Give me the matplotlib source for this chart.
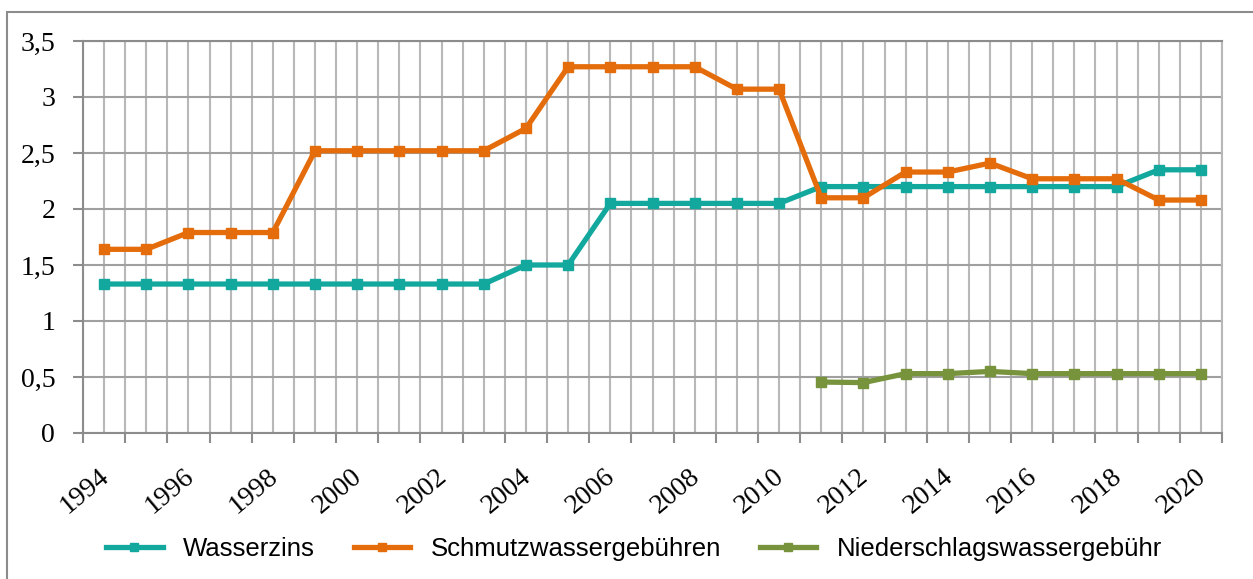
import numpy as np
import matplotlib
matplotlib.use("Agg")
import matplotlib.pyplot as plt
import matplotlib.transforms as mtransforms
from matplotlib.patches import Rectangle
from matplotlib.ticker import FixedLocator, FuncFormatter

# data
years = list(range(1994, 2021))
wasserzins = [1.33, 1.33, 1.33, 1.33, 1.33, 1.33, 1.33, 1.33, 1.33, 1.33,
              1.50, 1.50, 2.05, 2.05, 2.05, 2.05, 2.05, 2.20, 2.20, 2.20,
              2.20, 2.20, 2.20, 2.20, 2.20, 2.35, 2.35]
schmutzwasser = [1.64, 1.64, 1.79, 1.79, 1.79, 2.52, 2.52, 2.52, 2.52, 2.52,
                 2.72, 3.27, 3.27, 3.27, 3.27, 3.07, 3.07, 2.10, 2.10, 2.33,
                 2.33, 2.41, 2.27, 2.27, 2.27, 2.08, 2.08]
niederschlag_years = list(range(2011, 2021))
niederschlag = [0.455, 0.45, 0.53, 0.53, 0.55, 0.53, 0.53, 0.53, 0.53, 0.53]
labels = ["Wasserzins", "Schmutzwassergebühren", "Niederschlagswassergebühr"]
colors = ["#12A89E", "#E46C0A", "#77933C"]

fig = plt.figure(figsize=(12.53, 5.79), dpi=100)
ax = fig.add_axes([83/1253, 1-433/579, 1139/1253, 392/579])

x = np.arange(len(years))
xn = np.array([years.index(y) for y in niederschlag_years])
series = [(x, wasserzins), (x, schmutzwasser), (xn, niederschlag)]
for (xs, ys), lab, c in zip(series, labels, colors):
    ax.plot(xs, ys, color=c, lw=3.8, marker="s", ms=7.5, label=lab,
            solid_joinstyle="miter", zorder=3)

ax.set_xlim(-0.5, len(years) - 0.5)
ax.set_ylim(0, 3.5)
ax.set_yticks(np.arange(0, 3.51, 0.5))
ax.yaxis.set_major_formatter(FuncFormatter(lambda v, p: ("%g" % v).replace(".", ",")))

# category centres (labels) and boundaries (tick marks)
ax.xaxis.set_major_locator(FixedLocator(x))
ax.set_xticklabels([str(y) if i % 2 == 0 else "" for i, y in enumerate(years)])
ax.xaxis.set_minor_locator(FixedLocator(np.arange(-0.5, len(years), 1.0)))
ax.tick_params(axis="x", which="major", length=0, pad=22)
ax.tick_params(axis="x", which="minor", length=7, width=1.5, color="#8c8c8c")
ax.tick_params(axis="y", length=7, width=1.5, color="#8c8c8c", pad=13)
shift = mtransforms.ScaledTranslation(-6/100, 0, fig.dpi_scale_trans)
for lbl in ax.get_xticklabels():
    lbl.set_rotation(40)
    lbl.set_ha("right")
    lbl.set_rotation_mode("anchor")
    lbl.set_transform(lbl.get_transform() + shift)
for lbl in ax.get_xticklabels() + ax.get_yticklabels():
    lbl.set_fontfamily("Liberation Serif")
    lbl.set_fontsize(20)

ax.grid(axis="x", which="both", color="#b8b8b8", lw=1.5, zorder=0)
ax.grid(axis="y", which="major", color="#a0a0a0", lw=1.5, zorder=0)
ax.set_axisbelow(True)
for s in ["left", "bottom", "top"]:
    ax.spines[s].set_color("#8c8c8c")
    ax.spines[s].set_linewidth(1.5)
ax.spines["right"].set_color("#b8b8b8")
ax.spines["right"].set_linewidth(1.5)

leg = fig.legend(loc="center", bbox_to_anchor=(634/1253, 1-549/579), ncol=3,
                 frameon=False, handlelength=2.2, handletextpad=0.8,
                 columnspacing=1.5, prop={"family": "Liberation Sans", "size": 18.5})
for h in leg.legend_handles:
    h.set_markersize(6)

# outer chart border
fig.patches.append(Rectangle((7/1253, -0.1), 1.2, 1.1 - 12/579, transform=fig.transFigure,
                             fill=False, ec="#8c8c8c", lw=1.5))

fig.savefig("out.png", dpi=100)
